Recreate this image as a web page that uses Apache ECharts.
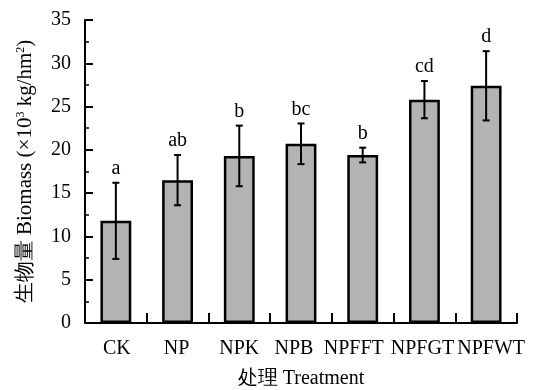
<!DOCTYPE html>
<html><head><meta charset="utf-8">
<script src="https://cdn.jsdelivr.net/npm/echarts@6/dist/echarts.min.js"></script>
<style>html,body{margin:0;padding:0;background:#fff}#c{width:534px;height:390px}</style>
</head><body><div id="c"></div>
<script>
const categories = ['CK','NP','NPK','NPB','NPFFT','NPFGT','NPFWT'];
const biomass = [11.8, 16.5, 19.3, 20.7, 19.4, 25.8, 27.4];
const errors = [4.4, 2.9, 3.5, 2.35, 0.85, 2.15, 4.0];
const letters = ['a','ab','b','bc','b','cd','d'];
const yTicks = [0,5,10,15,20,25,30,35];

const FONT = '"Liberation Serif","Times New Roman",serif';
const chart = echarts.init(document.getElementById('c'), null, {renderer:'canvas'});
const errData = categories.map((c,i)=>[i, biomass[i], errors[i], letters[i]]);

// horizontal label nudges (px) to mimic the reference placement
const labelShift = [1, -1, 0, -7, -9, -2, 5];
const rich = {};
labelShift.forEach((d,i)=>{
  rich['s'+i] = {fontFamily:FONT, fontSize:20, color:'#000',
    padding:[0, d<0 ? -2*d : 0, 0, d>0 ? 2*d : 0]};
});

chart.setOption({
  animation:false,
  grid:{left:85, right:17, top:20, bottom:67, containLabel:false, outerBoundsMode:'none'},
  xAxis:{
    type:'category', data:categories,
    axisLine:{lineStyle:{color:'#000', width:2}},
    axisTick:{show:true, inside:true, length:10, lineStyle:{color:'#000', width:2}},
    axisLabel:{color:'#000', fontFamily:FONT, fontSize:20, margin:16, interval:0,
      formatter:function(v, i){ return '{s'+i+'|'+v+'}'; }, rich:rich},
    name:'处理 Treatment', nameLocation:'middle', nameGap:46,
    nameTextStyle:{color:'#000', fontFamily:FONT, fontSize:20}
  },
  yAxis:{
    type:'value', min:yTicks[0], max:yTicks[yTicks.length-1], interval:5,
    axisLine:{show:true, lineStyle:{color:'#000', width:2}},
    axisTick:{show:true, inside:true, length:8, lineStyle:{color:'#000', width:2}},
    minorTick:{show:true, splitNumber:2, length:4, lineStyle:{color:'#000', width:1.5}},
    splitLine:{show:false},
    axisLabel:{color:'#000', fontFamily:FONT, fontSize:20, margin:14},
    name:'生物量 Biomass (×10{sup|3} kg/hm{sup|2})', nameLocation:'middle', nameGap:49,
    nameTextStyle:{color:'#000', fontFamily:FONT, fontSize:21,
      rich:{sup:{fontSize:12, verticalAlign:'top', padding:[0,0,9,0], fontFamily:FONT, color:'#000'}}}
  },
  series:[
    {type:'bar', data:biomass, barWidth:'50%',
     itemStyle:{color:'#b3b3b3', borderColor:'#000', borderWidth:2.5}},
    {type:'custom', data:errData, z:10,
     renderItem:function(params, api){
       const x = api.value(0), v = api.value(1), e = api.value(2);
       const top = api.coord([x, v+e]), bot = api.coord([x, v-e]);
       const cx = top[0], hw = 3.5;
       return {type:'group', children:[
         {type:'line', shape:{x1:cx, y1:top[1], x2:cx, y2:bot[1]}, style:{stroke:'#000', lineWidth:2}},
         {type:'line', shape:{x1:cx-hw, y1:top[1], x2:cx+hw, y2:top[1]}, style:{stroke:'#000', lineWidth:2}},
         {type:'line', shape:{x1:cx-hw, y1:bot[1], x2:cx+hw, y2:bot[1]}, style:{stroke:'#000', lineWidth:2}},
         {type:'text', x:cx, y:top[1]-4, style:{text:letters[params.dataIndex], fill:'#000',
           font:'20px '+FONT, textAlign:'center', textVerticalAlign:'bottom'}}
       ]};
     }}
  ]
});
</script></body></html>
